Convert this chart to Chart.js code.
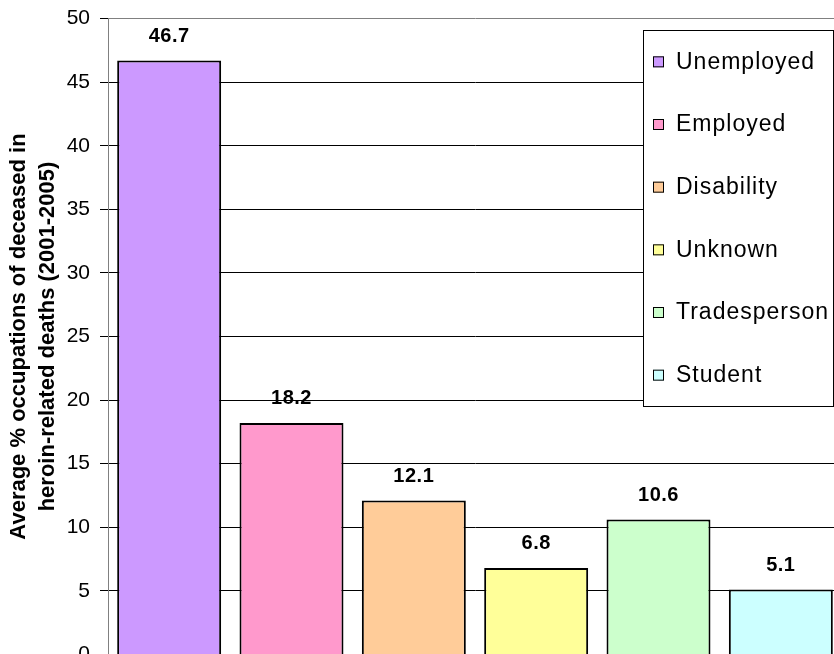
<!DOCTYPE html>
<html>
<head>
<meta charset="utf-8">
<script src="https://cdn.jsdelivr.net/npm/chart.js@4"></script>
<style>
  html, body { margin: 0; padding: 0; background: #fff; overflow: hidden; }
  #wrap { position: relative; width: 842px; height: 681px; margin-top: -4px; }
</style>
</head>
<body>
<div id="wrap"><canvas id="myChart"></canvas></div>
<script>
const categories = ['Unemployed', 'Employed', 'Disability', 'Unknown', 'Tradesperson', 'Student'];
const values = [46.7, 18.2, 12.1, 6.8, 10.6, 5.1];
const barColors = ['#CC99FF', '#FF99CC', '#FFCC99', '#FFFF99', '#CCFFCC', '#CCFFFF'];
const yTitle = ['Average % occupations of deceased in', 'heroin-related deaths (2001-2005)'];

const FONT = '"Liberation Sans", Arial, sans-serif';

// value labels above each bar
const valueLabels = {
  id: 'valueLabels',
  afterDatasetsDraw(chart) {
    const ctx = chart.ctx;
    const meta = chart.getDatasetMeta(0);
    ctx.save();
    ctx.font = 'bold 20px ' + FONT;
    ctx.letterSpacing = '0.5px';
    ctx.fillStyle = '#000';
    ctx.textAlign = 'center';
    ctx.textBaseline = 'alphabetic';
    meta.data.forEach((bar, i) => {
      ctx.fillText(values[i].toFixed(1), bar.x, bar.y - 19);
    });
    ctx.restore();
  }
};

// legend box inside the plot, like the spreadsheet original
// (canvas sits 4px higher than the page, so the box is drawn 4px lower)
const boxLegend = {
  id: 'boxLegend',
  afterDraw(chart) {
    const ctx = chart.ctx;
    const left = 643, top = 34, w = 190, h = 376;
    ctx.save();
    ctx.fillStyle = '#fff';
    ctx.fillRect(left, top, w, h);
    ctx.strokeStyle = '#000';
    ctx.lineWidth = 1;
    ctx.strokeRect(left + 0.5, top + 0.5, w, h);
    ctx.font = '23px ' + FONT;
    ctx.letterSpacing = '1px';
    ctx.textBaseline = 'middle';
    const step = h / categories.length;
    categories.forEach((name, i) => {
      const cy = top + step * (i + 0.5);
      ctx.fillStyle = barColors[i];
      ctx.fillRect(left + 10, cy - 5, 11, 11);
      ctx.strokeStyle = '#000';
      ctx.strokeRect(left + 10.5, cy - 4.5, 10, 10);
      ctx.fillStyle = '#000';
      ctx.fillText(name, left + 33, cy + 1);
    });
    ctx.restore();
  }
};

new Chart(document.getElementById('myChart'), {
  type: 'bar',
  data: {
    labels: categories,
    datasets: [{
      data: values,
      backgroundColor: barColors,
      borderColor: '#000',
      borderWidth: 2,
      borderSkipped: 'bottom',
      barPercentage: 0.85,
      categoryPercentage: 1
    }]
  },
  options: {
    responsive: true,
    maintainAspectRatio: false,
    animation: false,
    devicePixelRatio: 1,
    layout: { padding: { top: 2, left: 4, right: 0, bottom: 0 } },
    plugins: { legend: { display: false }, tooltip: { enabled: false } },
    scales: {
      x: {
        ticks: { display: false },
        grid: { display: false },
        border: { color: '#808080' }
      },
      y: {
        min: 0,
        max: 50,
        ticks: {
          stepSize: 5,
          color: '#000',
          padding: 10,
          font: { size: 21, family: FONT }
        },
        grid: {
          color: (c) => c.tick && c.tick.value === 50 ? '#808080' : '#000',
          tickColor: '#000',
          tickLength: 8
        },
        border: { color: '#808080' },
        title: {
          display: true,
          text: yTitle,
          color: '#000',
          padding: { top: 0, bottom: 0 },
          font: { size: 22, weight: 'bold', family: FONT, lineHeight: 1.32 }
        },
        afterFit(scale) { scale.width = 104; }
      }
    }
  },
  plugins: [valueLabels, boxLegend]
});
</script>
</body>
</html>
